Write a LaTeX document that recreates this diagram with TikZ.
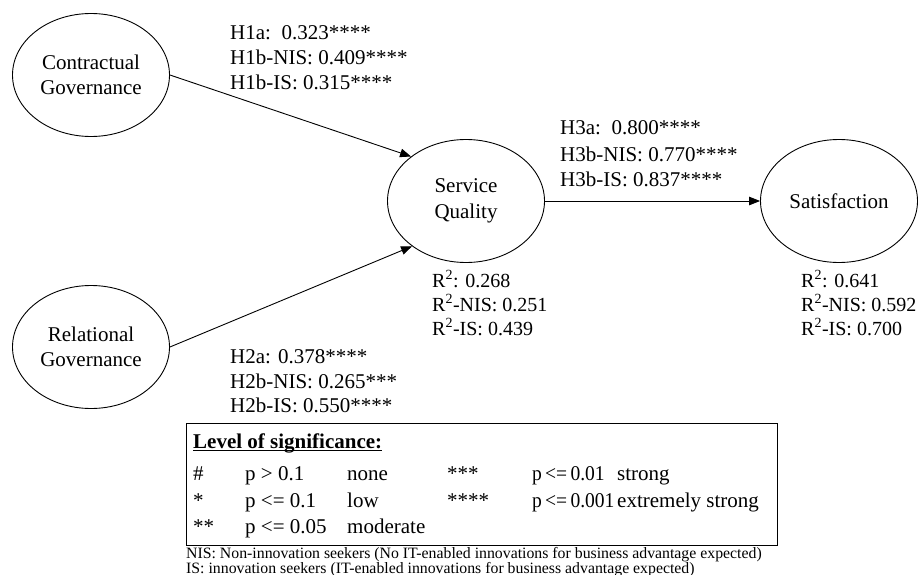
\documentclass[tikz,border=0pt]{standalone}
\usepackage{fontspec}
\usepackage{graphicx}
\setmainfont{Liberation Serif}
\usetikzlibrary{shapes.geometric,arrows.meta}
\newcommand\sigul[1]{\setbox0\hbox{#1}\rlap{\rule[-3pt]{\wd0}{1.2pt}}\box0}
\newcommand\pcond[1]{\scalebox{0.93}[1]{#1}}
\begin{document}
\begin{tikzpicture}[x=1pt,y=-1pt,
  construct/.style={ellipse,draw,line width=0.9pt,minimum width=157pt,minimum height=123pt,inner sep=0pt,align=center,font=\fontsize{21}{25.5}\selectfont},
  lbl/.style={anchor=base west,inner sep=0pt,font=\fontsize{21}{25}\selectfont},
  rlbl/.style={anchor=base west,inner sep=0pt,font=\fontsize{20}{24}\selectfont},
  link/.style={line width=0.9pt,-{Triangle[length=11pt,width=8.5pt]}},
  legbox/.style={draw,line width=0.9pt,anchor=north west,inner sep=0pt,minimum width=591pt,minimum height=122pt},
  foot/.style={anchor=base west,inner sep=0pt,font=\fontsize{15.8}{15}\selectfont}]
\useasboundingbox (0,0) rectangle (920,575);

% constructs
\node[construct] (cg) at (91,75) {Contractual\\Governance};
\node[construct] (rg) at (91,347) {Relational\\Governance};
\node[construct] (sq) at (466,201) {Service\\Quality};
\node[construct] (sat) at (839,201) {Satisfaction};

% paths
\draw[link] (cg.east) -- (sq.141);
\draw[link] (rg.east) -- (sq.220);
\draw[link] (sq.east) -- (sat.west);

% path coefficients
\node[lbl] (h1a) at (230,40) {H1a:\ \ 0.323****};
\node[lbl] (h1b) at (230,65) {H1b-NIS: 0.409****};
\node[lbl] (h1c) at (230,90) {H1b-IS: 0.315****};

\node[lbl] (h3a) at (560,135) {H3a:\ \ 0.800****};
\node[lbl] (h3b) at (560,161) {H3b-NIS: 0.770****};
\node[lbl] (h3c) at (560,186) {H3b-IS: 0.837****};

\node[lbl] (h2a) at (230,363) {H2a: 0.378****};
\node[lbl] (h2b) at (230,388) {H2b-NIS: 0.265***};
\node[lbl] (h2c) at (230,412) {H2b-IS: 0.550****};

% R squared
\node[rlbl] (rsq1) at (432,287) {R\textsuperscript{2}: 0.268};
\node[rlbl] (rsq2) at (432,311) {R\textsuperscript{2}-NIS: 0.251};
\node[rlbl] (rsq3) at (432,335) {R\textsuperscript{2}-IS: 0.439};

\node[rlbl] (rsat1) at (801,287) {R\textsuperscript{2}: 0.641};
\node[rlbl] (rsat2) at (801,311) {R\textsuperscript{2}-NIS: 0.592};
\node[rlbl] (rsat3) at (801,335) {R\textsuperscript{2}-IS: 0.700};

% legend
\node[legbox] (legend) at (186,423) {};
\node[lbl] (legtitle) at (193,448) {\sigul{\textbf{Level of significance:}}};

\node[lbl] (s1a) at (193,480) {\#};
\node[lbl] (s1b) at (245,480) {p > 0.1};
\node[lbl] (s1c) at (347,480) {none};
\node[lbl] (s1d) at (447,480) {***};
\node[lbl] (s1e) at (532,480) {\pcond{p\,<=\,0.01}};
\node[lbl] (s1f) at (617,480) {strong};

\node[lbl] (s2a) at (193,507) {*};
\node[lbl] (s2b) at (245,507) {p <= 0.1};
\node[lbl] (s2c) at (347,507) {low};
\node[lbl] (s2d) at (447,507) {****};
\node[lbl] (s2e) at (532,507) {\pcond{p\,<=\,0.001}};
\node[lbl] (s2f) at (617,507) {extremely strong};

\node[lbl] (s3a) at (193,533) {**};
\node[lbl] (s3b) at (245,533) {p <= 0.05};
\node[lbl] (s3c) at (347,533) {moderate};

% footnotes
\node[foot] (nis) at (186,558) {NIS: Non-innovation seekers (No IT-enabled innovations for business advantage expected)};
\node[foot] (is) at (186,573) {IS: innovation seekers (IT-enabled innovations for business advantage expected)};
\end{tikzpicture}
\end{document}
